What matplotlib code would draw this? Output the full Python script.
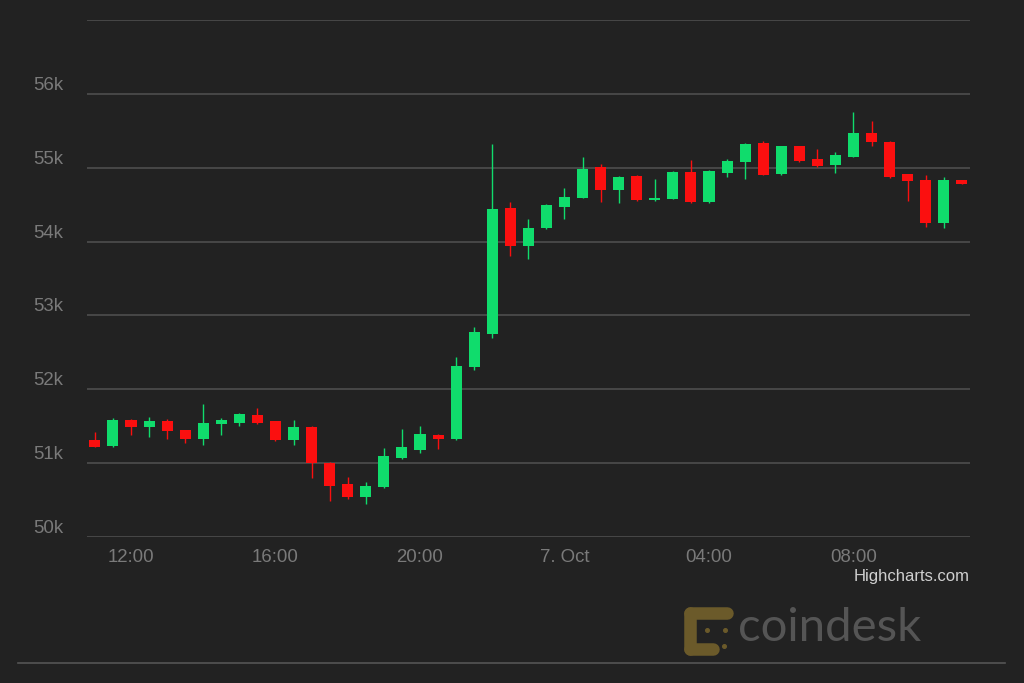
import pandas as pd
import numpy as np
import matplotlib
matplotlib.use("Agg")
import matplotlib.pyplot as plt
import matplotlib.dates as mdates
from matplotlib.lines import Line2D
from matplotlib.patches import Circle

# ---- data: BTC/USD 30-min candles, 6-7 Oct ----
start = "2021-10-06 11:00"
opens = [51307, 51235, 51588, 51489, 51565, 51442, 51326, 51533, 51543, 51656,
         51565, 51307, 51493, 51008, 50715, 50539, 50674, 51068, 51181, 51384,
         51330, 52303, 52755, 54451, 53939, 54180, 54474, 54596, 55003, 54699,
         54889, 54560, 54583, 54944, 54536, 54935, 55071, 55333, 54912, 55288,
         55116, 55034, 55147, 55465, 55351, 54912, 54835, 54257, 54831]
highs = [51415, 51615, 51600, 51624, 51597, 51452, 51805, 51611, 51683, 51746,
         51574, 51588, 51506, 51018, 50810, 50750, 51204, 51461, 51497, 51398,
         52433, 52846, 55319, 54536, 54302, 54505, 54732, 55139, 55048, 54885,
         54895, 54845, 54950, 55106, 54971, 55116, 55330, 55364, 55295, 55295,
         55252, 55215, 55750, 55636, 55360, 54915, 54899, 54868, 54835]
lows = [51215, 51221, 51384, 51353, 51326, 51271, 51248, 51384, 51506, 51533,
        51303, 51248, 50797, 50489, 50512, 50448, 50665, 51058, 51144, 51190,
        51316, 52266, 52696, 53804, 53759, 54170, 54302, 54590, 54536, 54519,
        54553, 54553, 54575, 54519, 54525, 54868, 54845, 54900, 54905, 55078,
        55003, 54935, 55140, 55288, 54854, 54550, 54203, 54189, 54773]
closes = [51225, 51588, 51489, 51565, 51429, 51326, 51543, 51578, 51669, 51543,
          51307, 51489, 51000, 50692, 50539, 50692, 51090, 51212, 51394, 51330,
          52311, 52772, 54437, 53939, 54189, 54492, 54610, 54980, 54699, 54881,
          54560, 54591, 54944, 54536, 54957, 55093, 55319, 54903, 55288, 55085,
          55025, 55170, 55469, 55342, 54876, 54821, 54257, 54835, 54777]

y_ticks = [50000, 51000, 52000, 53000, 54000, 55000, 56000, 57000]
y_labels = ["50k", "51k", "52k", "53k", "54k", "55k", "56k", ""]
x_ticks = ["2021-10-06 12:00", "2021-10-06 16:00", "2021-10-06 20:00",
           "2021-10-07 00:00", "2021-10-07 04:00", "2021-10-07 08:00"]
x_labels = ["12:00", "16:00", "20:00", "7. Oct", "04:00", "08:00"]

BG = "#222222"
UP = "#10dc6c"
DOWN = "#fb0f0f"
GRID = "#4a4a4a"
LABEL = "#7a7a7a"

plt.rcParams["font.family"] = ["Liberation Sans", "DejaVu Sans"]

df = pd.DataFrame({"open": opens, "high": highs, "low": lows, "close": closes})
df["t"] = mdates.date2num(pd.date_range(start, periods=len(df), freq="30min"))
df["up"] = df["close"] >= df["open"]

fig = plt.figure(figsize=(10.24, 6.83), dpi=100, facecolor=BG)
W, H = 1024, 683
ax = fig.add_axes([87 / W, 1 - 537 / H, 883 / W, 517 / H], facecolor=BG)

body_w = 0.305 / 24  # ~0.3 h body width in days
for up, col in [(True, UP), (False, DOWN)]:
    d = df[df["up"] == up]
    ax.vlines(d["t"], d["low"], d["high"], color=col, lw=1.0, zorder=3)
    h = (d["close"] - d["open"]).abs().clip(lower=12)
    ax.bar(d["t"], h, bottom=d[["open", "close"]].min(axis=1), width=body_w,
           color=col, linewidth=0, zorder=4)

x0 = mdates.date2num(pd.Timestamp("2021-10-06 12:00"))
ax.set_xlim(x0 - 1.218 / 24, x0 + 23.225 / 24)
ax.set_ylim(50000, 57000)

ax.set_yticks(y_ticks)
ax.set_yticklabels(y_labels)
ax.set_xticks(mdates.date2num(pd.to_datetime(x_ticks)))
ax.set_xticklabels(x_labels)
ax.grid(axis="y", color=GRID, lw=1.3)
ax.set_axisbelow(True)
ax.tick_params(axis="y", length=0, pad=24 * 0.72, labelsize=13.4, labelcolor=LABEL)
ax.tick_params(axis="x", length=0, pad=9, labelsize=13.4, labelcolor=LABEL)
for lab in ax.get_yticklabels():
    lab.set_verticalalignment("bottom")
for s in ax.spines.values():
    s.set_visible(False)

# credits + separator
fig.text(970 / W, 1 - 577 / H, "Highcharts.com", color="#d0d0d0", fontsize=12,
         ha="right", va="center")
fig.add_artist(Line2D([18 / W, 1005 / W], [1 - 662.5 / H] * 2, color="#555555",
                      lw=1.2, transform=fig.transFigure))

# coindesk watermark
GOLD = "#6b5a2a"
def px(x, y):
    return x / W, 1 - y / H

for (xa, ya), (xb, yb) in [((690, 613), (727, 613)), ((690, 613), (690, 649)),
                           ((690, 649), (713, 649))]:
    (fx0, fy0), (fx1, fy1) = px(xa, ya), px(xb, yb)
    fig.add_artist(Line2D([fx0, fx1], [fy0, fy1], color=GOLD, lw=9,
                          solid_capstyle="round", transform=fig.transFigure))
for (cx, cy) in [(707, 630), (725, 630), (724, 646)]:
    fx, fy = px(cx, cy)
    fig.add_artist(Line2D([fx], [fy], marker="o", ms=2.6, color=GOLD, lw=0,
                          transform=fig.transFigure))
fig.text(738 / W, 1 - 628 / H, "coindesk", color="#555555", fontsize=34,
         family=["Lato", "DejaVu Sans"], ha="left", va="center")

fig.savefig("out.png", dpi=100, facecolor=BG)
